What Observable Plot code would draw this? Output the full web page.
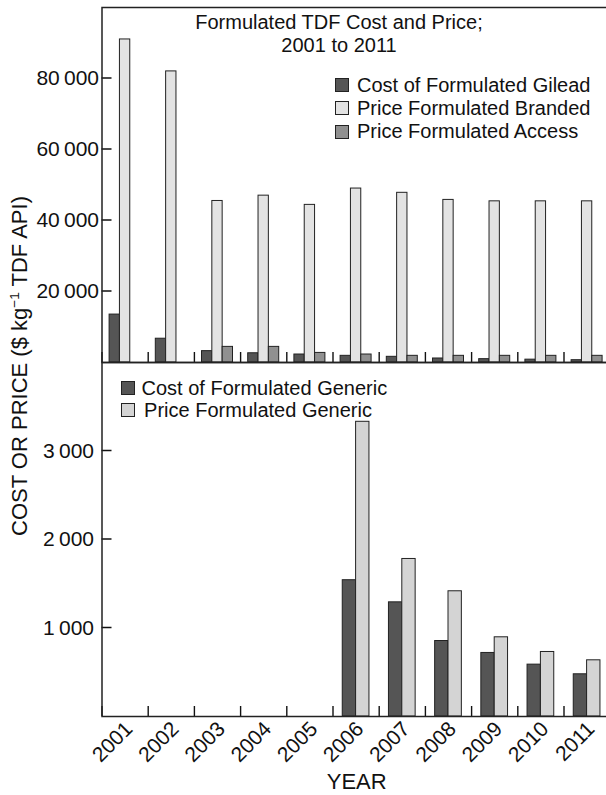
<!DOCTYPE html>
<html>
<head>
<meta charset="utf-8">
<script src="https://cdn.jsdelivr.net/npm/d3@7"></script>
<script src="https://cdn.jsdelivr.net/npm/@observablehq/plot@0.6"></script>
<style>
  html, body { margin: 0; padding: 0; background: #fff; overflow: hidden; }
  #chart { position: relative; width: 606px; height: 795px; overflow: hidden; font-family: "Liberation Sans", Arial, sans-serif; color: #111; }
  #chart > svg { position: absolute; left: 0; max-width: none !important; }
  .lbl { position: absolute; white-space: nowrap; }
  .legend { position: absolute; font-size: 20px; }
  .legend .row { display: flex; align-items: center; }
  .legend .sw { width: 14px; height: 14px; box-sizing: border-box; border: 1px solid #222; flex: none; }
</style>
</head>
<body>
<div id="chart"></div>
<script>
// ---- data ----
const years = ["2001","2002","2003","2004","2005","2006","2007","2008","2009","2010","2011"];
const costGilead     = [13500, 6700, 3200, 2600, 2250, 1880, 1600, 1130, 940, 800, 650];
const priceBranded   = [91000, 82000, 45500, 47000, 44400, 49000, 47800, 45800, 45400, 45400, 45400];
const priceAccess    = [null, null, 4400, 4400, 2700, 2250, 1880, 1880, 1880, 1880, 1880];
const costGeneric    = [null, null, null, null, null, 1540, 1290, 853, 718, 586, 477];
const priceGeneric   = [null, null, null, null, null, 3330, 1780, 1415, 895, 729, 635];
const topTicks = [20000, 40000, 60000, 80000];
const bottomTicks = [1000, 2000, 3000];
const topLegend = ["Cost of Formulated Gilead", "Price Formulated Branded", "Price Formulated Access"];
const bottomLegend = ["Cost of Formulated Generic", "Price Formulated Generic"];
const colors = {dark: "#555555", branded: "#e3e3e3", access: "#909090", generic: "#d4d4d4"};

const rows = (vals) => years.map((y, i) => ({year: y, value: vals[i]})).filter(d => d.value != null);
const fmt = d => d3.format(",")(d).replace(/,/g, "\u2009");
const font = "Liberation Sans, Arial, sans-serif";
const barStyle = {stroke: "#222", strokeWidth: 1};
const tickLen = 10;   // inward tick length, px
const halfBand = 23.1;
const tickStyle = {stroke: "#111", strokeWidth: 1.4};

const chart = document.getElementById("chart");

function panel({height, marginTop, marginBottom, yDomain, yTicks, labelPad, series, xAxis, top}) {
  const frameH = height - marginTop - marginBottom;
  const halfTick = 0.75 / frameH * (yDomain[1] - yDomain[0]); // half tick thickness in data units
  const p = Plot.plot({
    width: 612, height,
    marginLeft: 101.5, marginRight: 2.3, marginTop, marginBottom,
    style: {background: "transparent", overflow: "visible", fontFamily: font, color: "#111", maxWidth: "none"},
    x: {domain: years, padding: 0, round: false, axis: null},
    y: {domain: yDomain, axis: null},
    marks: [
      ...series.map(s => Plot.barY(rows(s.values), {x: "year", y: "value", fill: s.fill, ...barStyle, insetLeft: s.l, insetRight: s.r})),
      // y tick labels (outside)
      Plot.axisY({ticks: yTicks, tickSize: 0, tickPadding: labelPad, tickFormat: fmt, fontSize: 21, label: null}),
      // inward y ticks, drawn as thin filled bars
      Plot.barY(yTicks, {x: () => years[0], y1: d => d - halfTick, y2: d => d + halfTick, insetRight: 2 * halfBand - tickLen, fill: "#111"}),
      // inward ticks at the year boundaries
      Plot.axisX({tickSize: tickLen, dx: -halfBand, dy: -tickLen, tickFormat: () => "", label: null, ...tickStyle}),
      ...(xAxis ? [Plot.axisX({tickSize: 0, tickPadding: 4, tickRotate: -45, fontSize: 21, dx: 4, dy: 5, label: null})] : []),
      Plot.frame({stroke: "#222", strokeWidth: 1.5})
    ]
  });
  p.style.top = top + "px";
  chart.appendChild(p);
}

// ---- top panel ----
panel({
  height: 364, marginTop: 7, marginBottom: 2, yDomain: [0, 100000], yTicks: topTicks, labelPad: 3, top: 0,
  series: [
    {values: costGilead,   fill: colors.dark,    l: 7.6,   r: 28.27},
    {values: priceBranded, fill: colors.branded, l: 17.93, r: 17.94},
    {values: priceAccess,  fill: colors.access,  l: 28.27, r: 7.6}
  ]
});

// ---- bottom panel ----
panel({
  height: 433, marginTop: 0, marginBottom: 79, yDomain: [0, 4000], yTicks: bottomTicks, labelPad: 8, top: 362, xAxis: true,
  series: [
    {values: costGeneric,  fill: colors.dark,    l: 9.75, r: 23.1},
    {values: priceGeneric, fill: colors.generic, l: 23.1, r: 9.75}
  ]
});

// ---- texts ----
function addDiv(html, css, cls = "lbl") {
  const d = document.createElement("div");
  d.className = cls;
  d.innerHTML = html;
  Object.assign(d.style, css);
  chart.appendChild(d);
  return d;
}
addDiv("Formulated TDF Cost and Price;<br>2001 to 2011",
  {left: "139px", width: "400px", top: "10.7px", textAlign: "center", fontSize: "20px", lineHeight: "23.4px"});

addDiv("COST OR PRICE ($ kg<sup style=\"font-size:0.62em;vertical-align:0.55em;line-height:0\">\u22121</sup> TDF API)",
  {left: "19.7px", top: "366px", fontSize: "22px", lineHeight: "24.6px", transform: "translate(-50%,-50%) rotate(-90deg)"});

addDiv("YEAR", {left: "156.7px", width: "400px", top: "774.4px", textAlign: "center", fontSize: "22px", lineHeight: "16px"});

function legend(items, fills, css, rowH, gap, extra) {
  const box = document.createElement("div");
  box.className = "legend";
  Object.assign(box.style, css);
  items.forEach((t, i) => {
    const r = document.createElement("div");
    r.className = "row";
    r.style.height = rowH + "px";
    const sw = document.createElement("div");
    sw.className = "sw";
    sw.style.background = fills[i];
    const tx = document.createElement("span");
    tx.textContent = t;
    tx.style.marginLeft = (gap + (extra ? extra[i] : 0)) + "px";
    r.appendChild(sw); r.appendChild(tx);
    box.appendChild(r);
  });
  chart.appendChild(box);
}
legend(topLegend, [colors.dark, colors.branded, colors.access], {left: "335px", top: "73.4px"}, 23.3, 8);
legend(bottomLegend, [colors.dark, colors.generic], {left: "121px", top: "377.5px"}, 21.7, 6.5, [0, 2.6]);
</script>
</body>
</html>
